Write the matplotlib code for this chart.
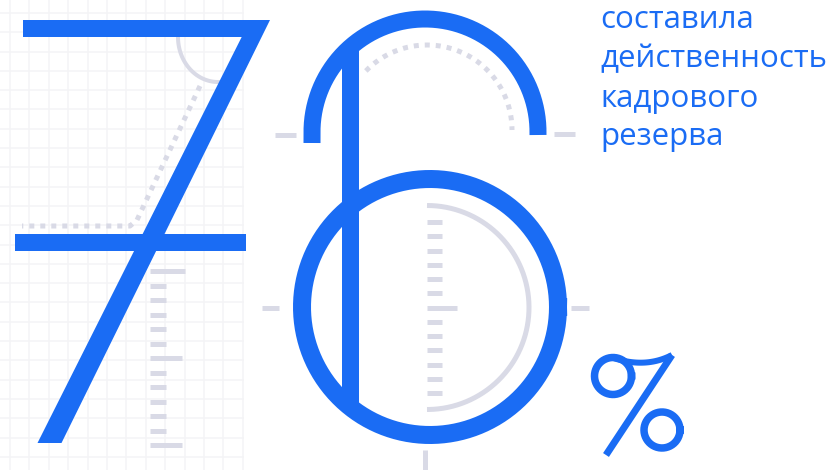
import numpy as np
import matplotlib.pyplot as plt

# infographic: "76 % составила действенность кадрового резерва"
value = 76
caption = ["составила", "действенность", "кадрового", "резерва"]

blue = "#1a6cf4"
gray = "#d9dae6"
grid_c = "#f4f4f6"

W, H = 837, 470
px = 72 / 100  # points per pixel at dpi 100

fig = plt.figure(figsize=(W / 100, H / 100), dpi=100)
ax = fig.add_axes([0, 0, 1, 1])
ax.set_xlim(0, W)
ax.set_ylim(H, 0)
ax.axis("off")


def arc(cx, cy, r, a0, a1, n=200):
    a = np.radians(np.linspace(a0, a1, n))
    return cx + r * np.cos(a), cy - r * np.sin(a)


# faint grid on the left
for x in np.arange(10, 245, 19.4):
    ax.plot([x, x], [0, H], color=grid_c, lw=1.5 * px, zorder=0)
for y in np.arange(13, H, 19.3):
    ax.plot([0, 243], [y, y], color=grid_c, lw=1.5 * px, zorder=0)

dots = dict(color=gray, lw=5 * px, ls=(0, (1, 1.2)), solid_capstyle="butt",
            dash_capstyle="butt", zorder=1)
bar = dict(color=gray, lw=5 * px, zorder=1)

# ---- digit 7 ----
t = np.radians(np.linspace(0, 90, 50))
ax.plot(218 - 40 * np.cos(t), 37 + 45 * np.sin(t), color=gray, lw=4 * px, zorder=1)
ax.plot([200, 137, 130, 22], [86, 220, 226, 226], **dots)

ruler7 = np.linspace(271, 445, 13)
for i, y in enumerate(ruler7):
    x1 = 166 if i % 6 else (185 if i == 0 else 182)
    ax.hlines(y, 150, x1, **bar)

seven = [(23, 20), (270, 20), (61.5, 443), (37.5, 443), (241.7, 37), (23, 37)]
ax.add_patch(plt.Polygon(seven, closed=True, color=blue, lw=0, zorder=3))
ax.add_patch(plt.Rectangle((15, 234), 231, 17, color=blue, lw=0, zorder=3))

# ---- digit 6 ----
ax.hlines(135, 275, 296, **bar)
ax.hlines(133.5, 554, 575, **bar)
ax.hlines(307.5, 262, 279, **bar)
ax.hlines(307.5, 571, 589, **bar)
ax.vlines(425.5, 450, 470, **bar)

xa, ya = arc(427, 130, 85, 136, 0)
ax.plot(xa, ya, **dots)

xa, ya = arc(427, 307.5, 102, 90, -90)
ax.plot(xa, ya, color=gray, lw=5 * px, solid_capstyle="butt", zorder=1)
ruler6 = np.linspace(222, 393, 13)
for i, y in enumerate(ruler6):
    ax.hlines(y, 427, 457 if i == 6 else 442, **bar)

xa, ya = arc(425, 132, 113, 180, 0)
ax.plot(np.r_[312, xa, 538], np.r_[143, ya, 135], color=blue, lw=17 * px,
        solid_capstyle="butt", solid_joinstyle="round", zorder=3)
xa, ya = arc(430, 307, 128, 0, 360, 400)
ax.plot(xa, ya, color=blue, lw=18 * px, zorder=3)
ax.add_patch(plt.Rectangle((342, 50), 17, 355, color=blue, lw=0, zorder=3))

# ---- percent sign ----
for cx, cy, r in [(613, 376, 18.5), (662, 430, 18)]:
    xa, ya = arc(cx, cy, r, 0, 360)
    ax.plot(xa, ya, color=blue, lw=7.5 * px, zorder=3)
ax.plot([672, 606], [355, 455], color=blue, lw=7 * px, solid_capstyle="butt", zorder=3)
s = np.linspace(0, 1, 50)[:, None]
P0, P1, P2 = np.array([612, 357.5]), np.array([645, 369]), np.array([672, 355])
bz = (1 - s) ** 2 * P0 + 2 * (1 - s) * s * P1 + s ** 2 * P2
ax.plot(bz[:, 0], bz[:, 1], color=blue, lw=6 * px, solid_capstyle="butt", zorder=3)

# ---- caption ----
for line, y in zip(caption, [28, 67, 107, 145]):
    ax.text(600, y, line, color=blue, fontsize=22.5, family="Open Sans",
            ha="left", va="baseline", zorder=4)

fig.savefig("out.png", dpi=100, facecolor="white")
